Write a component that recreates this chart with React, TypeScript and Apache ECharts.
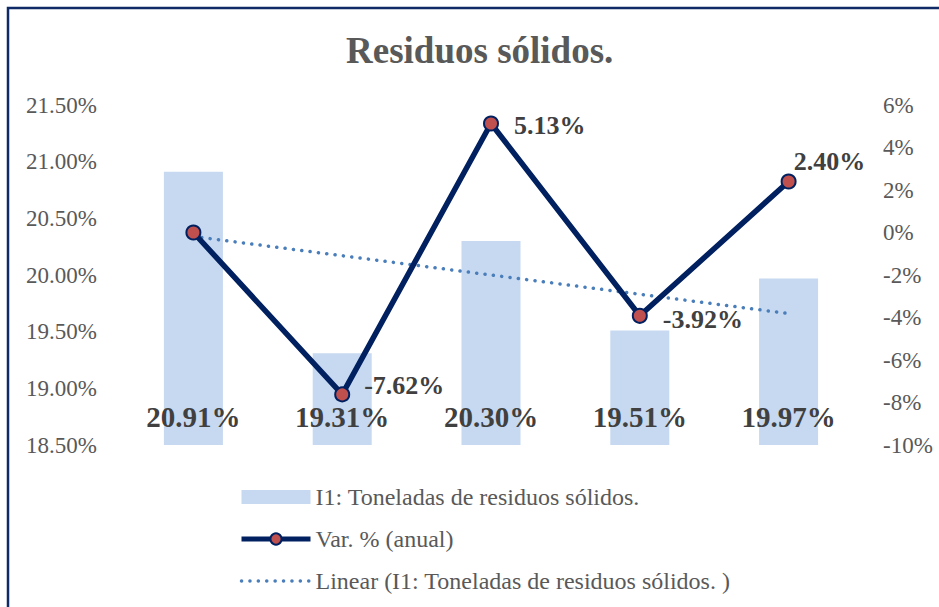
import React, { useEffect, useRef } from "react";
import * as echarts from "echarts";

const categories = ["2019", "2020", "2021", "2022", "2023"];
const barValues = [20.91, 19.31, 20.3, 19.51, 19.97];
const varValues = [0, -7.62, 5.13, -3.92, 2.4];
const trendValues: (number | null)[] = [20.34, null, null, null, 19.66];
const leftTicks = { min: 18.5, max: 21.5, interval: 0.5 };
const rightTicks = { min: -10, max: 6, interval: 2 };

const titleText = "Residuos sólidos.";
const barName = "I1: Toneladas de residuos sólidos.";
const lineName = "Var. % (anual)";
const trendName = "Linear (I1: Toneladas de residuos sólidos. )";

const FONT = "'Liberation Serif', 'Times New Roman', serif";
const NAVY = "#002060";
const MARKER = "#c0504d";
const TREND = "#4a7ebb";
const BAR = "#c6d9f1";

const varLabelCfg = [
  { show: false },
  { show: true, position: "right", distance: 14, offset: [0, -9] },
  { show: true, position: "right", distance: 15, offset: [0, 2] },
  { show: true, position: "right", distance: 15, offset: [0, 4] },
  { show: true, position: "top", distance: 0, offset: [41, 1] },
];

export default function App() {
  const ref = useRef<HTMLDivElement>(null);
  useEffect(() => {
    document.body.style.margin = "0";
    const chart = echarts.init(ref.current!, null, { renderer: "svg" });
    chart.setOption({
      animation: false,
      backgroundColor: "#ffffff",
      textStyle: { fontFamily: FONT },
      title: {
        text: titleText,
        left: 341,
        top: 27,
        textStyle: { fontFamily: FONT, fontSize: 37, fontWeight: "bold", color: "#595959" },
      },
      graphic: [
        {
          type: "rect",
          shape: { x: 8, y: 8, width: 1000, height: 700 },
          style: { fill: "none", stroke: "#0f2a66", lineWidth: 2.5 },
          silent: true,
          z: 100,
        },
      ],
      grid: { left: 119, right: 76, top: 105, bottom: 162 },
      legend: {
        orient: "vertical",
        left: 239,
        top: 485,
        padding: 0,
        itemWidth: 69,
        itemHeight: 14,
        itemGap: 18,
        selectedMode: false,
        data: [
          { name: barName, icon: "rect", itemStyle: { color: BAR } },
          {
            name: lineName,
            lineStyle: { color: NAVY, width: 5 },
            itemStyle: { color: MARKER, borderColor: NAVY, borderWidth: 2 },
          },
          {
            name: trendName,
            lineStyle: { color: TREND, width: 3.5, type: [0.1, 8.3], cap: "round" },
            itemStyle: { opacity: 0 },
          },
        ],
        textStyle: { fontFamily: FONT, fontSize: 24, color: "#595959", padding: [0, 0, 0, 0] },
      },
      xAxis: {
        type: "category",
        data: categories,
        axisLine: { show: false },
        axisTick: { show: false },
        axisLabel: { show: false },
      },
      yAxis: [
        {
          type: "value",
          ...leftTicks,
          splitLine: { show: false },
          axisLine: { show: false },
          axisTick: { show: false },
          axisLabel: {
            formatter: (v: number) => v.toFixed(2) + "%",
            fontFamily: FONT,
            fontSize: 23,
            color: "#595959",
            margin: 22,
          },
        },
        {
          type: "value",
          ...rightTicks,
          position: "right",
          splitLine: { show: false },
          axisLine: { show: false },
          axisTick: { show: false },
          axisLabel: {
            formatter: (v: number) => v + "%",
            fontFamily: FONT,
            fontSize: 23,
            color: "#595959",
            margin: 20,
          },
        },
      ],
      series: [
        {
          name: barName,
          type: "bar",
          yAxisIndex: 0,
          data: barValues,
          barWidth: 59,
          clip: true,
          itemStyle: { color: BAR },
          label: {
            show: true,
            position: "insideBottom",
            distance: 14,
            formatter: (p: any) => p.value.toFixed(2) + "%",
            fontFamily: FONT,
            fontSize: 29,
            fontWeight: "bold",
            color: "#404040",
          },
          z: 1,
        },
        {
          name: trendName,
          type: "line",
          yAxisIndex: 0,
          data: trendValues,
          connectNulls: true,
          symbol: "none",
          lineStyle: { color: TREND, width: 3.5, type: [0.1, 8.3], cap: "round" },
          itemStyle: { color: TREND },
          z: 2,
        },
        {
          name: lineName,
          type: "line",
          yAxisIndex: 1,
          data: varValues.map((v, i) => ({ value: v, label: varLabelCfg[i] })),
          symbol: "circle",
          symbolSize: 14,
          lineStyle: { color: NAVY, width: 5.5 },
          itemStyle: { color: MARKER, borderColor: NAVY, borderWidth: 2 },
          label: {
            show: true,
            formatter: (p: any) => p.value.toFixed(2) + "%",
            fontFamily: FONT,
            fontSize: 26,
            fontWeight: "bold",
            color: "#404040",
          },
          z: 3,
        },
      ],
    });
    return () => chart.dispose();
  }, []);
  return <div ref={ref} style={{ width: 939, height: 607 }} />;
}
